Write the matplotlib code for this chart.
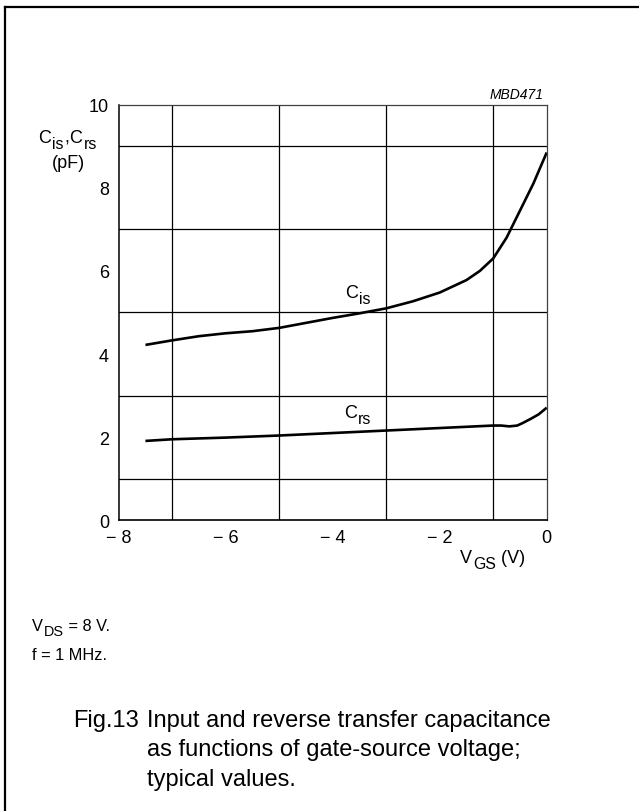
"""Fig.13 - input and reverse transfer capacitance vs gate-source voltage."""
import matplotlib

matplotlib.use("Agg")
import matplotlib.pyplot as plt
from matplotlib.lines import Line2D

plt.rcParams["font.family"] = ["Liberation Sans", "DejaVu Sans"]

# data
vgs_cis = [-7.5, -7.0, -6.5, -6.0, -5.5, -5.0, -4.5, -4.0, -3.5, -3.0,
           -2.5, -2.0, -1.5, -1.25, -1.0, -0.75, -0.5, -0.25, 0.0]
cis = [4.22, 4.33, 4.43, 4.50, 4.55, 4.63, 4.75, 4.87, 4.98, 5.10,
       5.27, 5.48, 5.78, 6.00, 6.30, 6.80, 7.45, 8.10, 8.85]

vgs_crs = [-7.5, -7.0, -6.0, -5.0, -4.0, -3.0, -2.0, -1.0, -0.85, -0.7,
           -0.55, -0.45, -0.3, -0.15, 0.0]
crs = [1.91, 1.95, 1.99, 2.04, 2.10, 2.16, 2.22, 2.28, 2.28, 2.26,
       2.28, 2.34, 2.44, 2.55, 2.71]

xticks = [-8, -6, -4, -2, 0]
xticklabels = ["\u2212 8", "\u2212 6", "\u2212 4", "\u2212 2", "0"]
yticks = [0, 2, 4, 6, 8, 10]

W, H = 639, 812
fig = plt.figure(figsize=(W / 100, H / 100), dpi=100)
ax = fig.add_axes([118.7 / W, 1 - 521.3 / H, 428 / W, 415.6 / H])


def rich(x, y, parts, size, coords="figure pixels"):
    """Text with near full-size subscripts; parts = [(text, is_sub), ...]."""
    prev, prev_lvl, prev_sub = None, 0.0, False
    for s, sub in parts:
        fs = size * 0.88 if sub else size
        lvl = -0.28 * size if sub else 0.0
        gap = 0.8 if (sub or prev_sub) and not s.startswith(" ") else 0.0
        if prev is None:
            prev = ax.annotate(s, xy=(x, y), xycoords=coords, fontsize=fs,
                               va="baseline", ha="left",
                               annotation_clip=False)
        else:
            prev = ax.annotate(s, xy=(1, 0), xycoords=prev,
                               xytext=(gap, lvl - prev_lvl),
                               textcoords="offset points", fontsize=fs,
                               va="bottom", ha="left",
                               annotation_clip=False)
        prev_lvl, prev_sub = lvl, sub


ax.plot(vgs_cis, cis, color="black", lw=1.9, solid_capstyle="butt")
ax.plot(vgs_crs, crs, color="black", lw=1.9, solid_capstyle="butt")

ax.set_xlim(-8, 0)
ax.set_ylim(0, 10)
ax.set_xticks(xticks)
ax.set_xticklabels(xticklabels)
ax.set_yticks(yticks)
ax.set_xticks(range(-8, 1), minor=True)
ax.set_yticks(range(0, 11), minor=True)
ax.grid(which="minor", color="black", lw=0.9)
ax.tick_params(which="both", length=0)
ax.tick_params(axis="y", pad=7, labelsize=13)
ax.tick_params(axis="x", pad=6, labelsize=13)
for s in ax.spines.values():
    s.set_linewidth(0.9)
    s.set_color("0.25")
ax.spines["left"].set_color("black")
ax.spines["bottom"].set_color("black")
ax.spines["left"].set_linewidth(1.1)
ax.spines["bottom"].set_linewidth(1.2)

# curve labels
rich(-3.77, 5.38, [("C", False), ("is", True)], 13, coords="data")
rich(-3.79, 2.49, [("C", False), ("rs", True)], 13, coords="data")

# axis labels
rich(38, H - 143, [("C", False), ("is", True), (",", False),
                   ("C", False), ("rs", True)], 13)
fig.text(68 / W, 1 - 168 / H, "(pF)", fontsize=13, ha="center",
         va="baseline")
rich(460, H - 563, [("V", False), ("GS", True), (" (V)", False)], 13)
fig.text(544 / W, 1 - 99 / H, "MBD471", fontsize=10, style="italic",
         ha="right", va="baseline")

# conditions and caption
rich(32, H - 631, [("V", False), ("DS", True), (" = 8 V.", False)], 11.8)
fig.text(32 / W, 1 - 660 / H, "f = 1 MHz.", fontsize=11.8, va="baseline")
fig.text(139 / W, 1 - 727 / H, "Fig.13", fontsize=17, ha="right",
         va="baseline")
caption = ["Input and reverse transfer capacitance",
           "as functions of gate-source voltage;",
           "typical values."]
for i, line in enumerate(caption):
    fig.text(147 / W, 1 - (727 + 29.5 * i) / H, line, fontsize=17,
             va="baseline")

# page frame (top and left edges only)
fig.add_artist(Line2D([4.5 / W, 1], [1 - 8 / H, 1 - 8 / H], color="black",
                      lw=1.6, transform=fig.transFigure))
fig.add_artist(Line2D([4.5 / W, 4.5 / W], [0, 1 - 8 / H], color="black",
                      lw=1.6, transform=fig.transFigure))

fig.savefig("out.png", dpi=100)
